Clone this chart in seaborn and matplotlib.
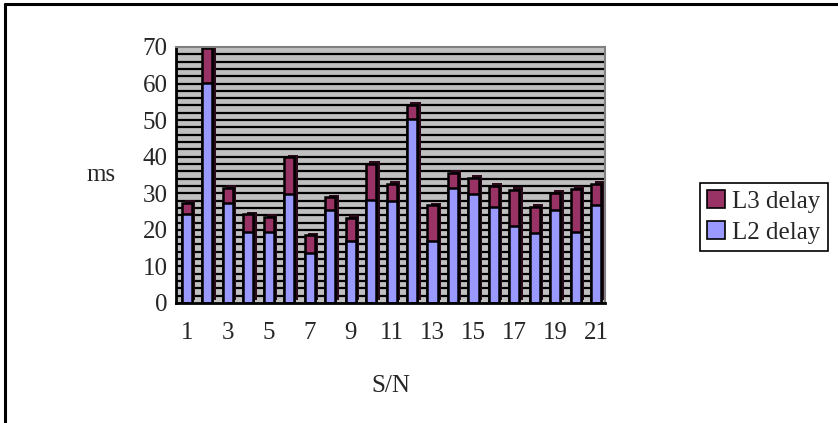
import matplotlib
matplotlib.use("Agg")
import matplotlib.pyplot as plt
import matplotlib.patheffects as pe
from matplotlib.lines import Line2D
from matplotlib.patches import Patch
from matplotlib.ticker import MultipleLocator
import numpy as np
import pandas as pd
import seaborn as sns

# Per-sample delays (ms)
sn = [str(i) for i in range(1, 22)]
l2_delay = [24.3, 60.2, 27.3, 19.4, 19.4, 29.8, 13.8, 25.4, 16.9, 28.2, 28.0,
            50.2, 16.9, 31.5, 29.8, 26.3, 21.1, 19.0, 25.4, 19.4, 26.9]
l3_delay = [3.1, 9.4, 4.1, 4.8, 4.2, 10.0, 4.7, 3.5, 6.3, 9.8, 4.5,
            3.9, 9.8, 4.0, 4.3, 5.8, 9.9, 7.3, 4.8, 11.7, 5.6]
y_ticks = [0, 10, 20, 30, 40, 50, 60, 70]

df = pd.DataFrame({"S/N": sn, "L2 delay": l2_delay, "L3 delay": l3_delay})
df["total"] = df["L2 delay"] + df["L3 delay"]

L2_COLOR = "#9999FF"
L3_COLOR = "#993366"
WALL = "#C0C0C0"
FS = 18

sns.set_theme(style="white")
plt.rcParams["font.family"] = ["Liberation Serif", "DejaVu Serif"]

fig = plt.figure(figsize=(8.38, 4.23), dpi=100)
ax = fig.add_axes([0.21, 0.2837, 0.512, 0.6053])
ax.set_facecolor(WALL)

# stacked bars: full height in L3 colour, L2 portion drawn on top
sns.barplot(data=df, x="S/N", y="total", order=sn, color=L3_COLOR,
            saturation=1, width=0.49, edgecolor="black", linewidth=1.8, ax=ax)
n_top = len(ax.patches)
sns.barplot(data=df, x="S/N", y="L2 delay", order=sn, color=L2_COLOR,
            saturation=1, width=0.49, edgecolor="black", linewidth=1.8, ax=ax)

# a dark offset face gives the columns some depth
for p in ax.patches[:n_top]:
    p.set_path_effects([pe.SimplePatchShadow(offset=(2.5, 2), shadow_rgbFace="#2a0a1a",
                                             alpha=1.0), pe.Normal()])

ax.set_ylim(0, 70)
ax.set_xlim(-0.52, 20.42)
ax.yaxis.set_minor_locator(MultipleLocator(2))
ax.set_yticks(y_ticks)
ax.grid(False)
for v in np.arange(2, 70, 2):
    ax.axhline(v, color="black", lw=1.6, zorder=0.5)

ax.set_xticks(range(len(sn)))
ax.set_xticklabels([s if i % 2 == 0 else "" for i, s in enumerate(sn)])
ax.tick_params(axis="x", length=0, pad=14, labelsize=FS)
ax.tick_params(axis="y", which="major", length=5, width=1.2, color="black",
               direction="in", pad=6, labelsize=FS)
ax.tick_params(axis="y", which="minor", length=5, width=1.2, color="black",
               direction="in")
ax.tick_params(axis="y", which="both", left=True)

for side in ["top", "right"]:
    ax.spines[side].set_color("#808080")
    ax.spines[side].set_linewidth(1.5)
for side in ["left", "bottom"]:
    ax.spines[side].set_color("black")
    ax.spines[side].set_linewidth(2)

ax.set_xlabel("S/N", fontsize=FS, labelpad=22)
ax.set_ylabel("ms", fontsize=FS, rotation=0, labelpad=30, va="center")

handles = [Patch(facecolor=L3_COLOR, edgecolor="black", lw=1.2, label="L3 delay"),
           Patch(facecolor=L2_COLOR, edgecolor="black", lw=1.2, label="L2 delay")]
leg = fig.legend(handles=handles, loc="upper left", bbox_to_anchor=(0.835, 0.568),
                 frameon=True, fancybox=False, edgecolor="black", framealpha=1,
                 fontsize=FS, handlelength=0.7, handleheight=0.7,
                 handletextpad=0.3, borderpad=0.3, labelspacing=0.35,
                 borderaxespad=0)
leg.get_frame().set_linewidth(1.2)

# outer chart border (top and left edges)
fig.add_artist(Line2D([0.006, 1.0], [0.991, 0.991], color="black", lw=2.2,
                      transform=fig.transFigure))
fig.add_artist(Line2D([0.006, 0.006], [0.0, 0.991], color="black", lw=2.2,
                      transform=fig.transFigure))

fig.savefig("out.png", dpi=100)
